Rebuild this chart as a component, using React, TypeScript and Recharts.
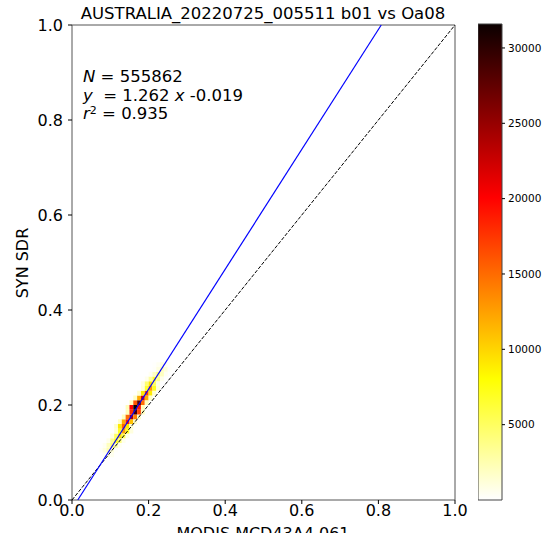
import React from "react";
import {
  ComposedChart,
  BarChart,
  Bar,
  XAxis,
  YAxis,
  ReferenceArea,
  ReferenceLine,
} from "recharts";

// 2D histogram, bin width 0.01. each row is one y bin; counts start at column rowX0
const BIN = 0.01;
const rowY = [9, 10, 11, 12, 13, 14, 15, 16, 17, 18, 19, 20, 21, 22, 23, 24, 25, 26, 27, 28];
const rowX0 = [7, 7, 8, 9, 10, 11, 11, 12, 13, 14, 14, 15, 16, 17, 18, 18, 19, 20, 21, 21];
const rowCounts = [
  [0, 300, 1000, 500, 0],
  [200, 900, 2500, 1200, 200],
  [400, 2000, 4500, 2500, 400],
  [600, 3500, 7000, 4000, 600],
  [900, 5000, 9500, 5500, 800],
  [1200, 7000, 12500, 7000, 1000],
  [1500, 9000, 15500, 9000, 1300],
  [1800, 12000, 19000, 11000, 1500],
  [2000, 15000, 24000, 14000, 1800],
  [2200, 18000, 29000, 17000, 2000],
  [2200, 20000, 31590, 19000, 2200],
  [2000, 16000, 28000, 15000, 2000],
  [1800, 12000, 22000, 12000, 1800],
  [1500, 9000, 17000, 9000, 1500],
  [1200, 6500, 13000, 7000, 1200],
  [900, 4500, 9500, 5000, 900],
  [600, 3000, 6500, 3500, 600],
  [400, 1800, 4000, 2000, 400],
  [200, 900, 2200, 1100, 200],
  [100, 400, 1000, 500, 100],
];

const axisTicks = [0, 0.2, 0.4, 0.6, 0.8, 1.0];
const cbarTicks = [5000, 10000, 15000, 20000, 25000, 30000];
const VMAX = 31590;

// fit and stats
const slope = 1.262;
const intercept = -0.019;
const nPoints = 555862;
const r2 = 0.935;

const FONT = "DejaVu Sans";

// matplotlib hot_r
const hotR = (v: number) => {
  const t = 1 - v / VMAX;
  const c = (x: number) => Math.max(0, Math.min(1, x));
  const r = c(0.0416 + (t / 0.365) * 0.9584);
  const g = c((t - 0.365) / 0.381);
  const b = c((t - 0.746) / 0.254);
  return `rgb(${Math.round(r * 255)},${Math.round(g * 255)},${Math.round(b * 255)})`;
};

const cells: { x: number; y: number; n: number }[] = [];
rowY.forEach((yb, i) => {
  rowCounts[i].forEach((n, j) => {
    if (n > 0) cells.push({ x: rowX0[i] + j, y: yb, n });
  });
});

const App = () => {
  const tickStyle = { fill: "#000", fontSize: 16, fontFamily: FONT };
  return (
    <div
      style={{
        position: "absolute",
        left: 0,
        top: 0,
        width: 548,
        height: 533,
        overflow: "hidden",
        background: "#fff",
      }}
    >
      <div style={{ position: "absolute", left: 0, top: 0 }}>
        <ComposedChart
          width={470}
          height={533}
          margin={{ top: 25, right: 15, bottom: 0, left: 0 }}
        >
          <XAxis
            type="number"
            dataKey="x"
            domain={[0, 1]}
            ticks={axisTicks}
            allowDataOverflow
            height={33}
            tickSize={4}
            tickMargin={1}
            axisLine={false}
            tickLine={{ stroke: "#000" }}
            tick={tickStyle}
            tickFormatter={(v: number) => v.toFixed(1)}
          />
          <YAxis
            type="number"
            dataKey="y"
            domain={[0, 1]}
            ticks={axisTicks}
            allowDataOverflow
            width={72}
            tickSize={4}
            tickMargin={5}
            axisLine={false}
            tickLine={{ stroke: "#000" }}
            tick={tickStyle}
            tickFormatter={(v: number) => v.toFixed(1)}
          />
          {cells.map((c, i) => (
            <ReferenceArea
              key={`cell-${i}`}
              x1={c.x * BIN}
              x2={(c.x + 1) * BIN}
              y1={c.y * BIN}
              y2={(c.y + 1) * BIN}
              fill={hotR(c.n)}
              fillOpacity={1}
              stroke="none"
            />
          ))}
          <ReferenceLine
            segment={[
              { x: 0, y: 0 },
              { x: 1, y: 1 },
            ]}
            stroke="#000"
            strokeWidth={1}
            strokeDasharray="3.7 1.6"
          />
          <ReferenceLine
            segment={[
              { x: (0 - intercept) / slope, y: 0 },
              { x: (1 - intercept) / slope, y: 1 },
            ]}
            stroke="#0000ff"
            strokeWidth={1.2}
          />
          <ReferenceArea
            x1={0}
            x2={1}
            y1={0}
            y2={1}
            fill="none"
            stroke="#555"
            strokeWidth={1}
          />
        </ComposedChart>
      </div>

      <div style={{ position: "absolute", left: 478, top: 0 }}>
        <BarChart
          width={70}
          height={533}
          data={[{ name: "count", v: VMAX }]}
          margin={{ top: 24, right: 0, bottom: 33, left: 0 }}
          barCategoryGap={0}
        >
          <defs>
            <linearGradient id="hotGrad" x1="0" y1="0" x2="0" y2="1">
              <stop offset="0" stopColor="#0b0000" />
              <stop offset="0.365" stopColor="#ff0000" />
              <stop offset="0.746" stopColor="#ffff00" />
              <stop offset="1" stopColor="#ffffff" />
            </linearGradient>
          </defs>
          <XAxis dataKey="name" hide />
          <YAxis
            orientation="right"
            type="number"
            domain={[0, VMAX]}
            ticks={cbarTicks}
            width={46}
            tickSize={3}
            tickMargin={3}
            axisLine={false}
            tickLine={{ stroke: "#000" }}
            tick={{ fill: "#000", fontSize: 10.5, fontFamily: FONT }}
          />
          <Bar
            dataKey="v"
            fill="url(#hotGrad)"
            stroke="#444"
            strokeWidth={1}
            isAnimationActive={false}
          />
        </BarChart>
      </div>

      <svg
        width={548}
        height={533}
        style={{ position: "absolute", left: 0, top: 0, pointerEvents: "none" }}
        fontFamily={FONT}
      >
        <text x={263} y={19} fontSize={16.5} textAnchor="middle" fill="#000">
          AUSTRALIA_20220725_005511 b01 vs Oa08
        </text>
        <text x={83} y={82} fontSize={16.5} fill="#000">
          <tspan fontStyle="italic">N</tspan> = {nPoints}
        </text>
        <text x={83} y={100.5} fontSize={16.5} fill="#000" xmlSpace="preserve">
          <tspan fontStyle="italic">y</tspan>{"  = "}{slope} <tspan fontStyle="italic">x</tspan> {intercept}
        </text>
        <text x={83} y={119} fontSize={16.5} fill="#000">
          <tspan fontStyle="italic">r</tspan>
          <tspan fontSize={11} dy={-5}>2</tspan>
          <tspan dy={5}> = {r2}</tspan>
        </text>
        <text
          x={0}
          y={0}
          fontSize={16}
          textAnchor="middle"
          fill="#000"
          transform="translate(28 263) rotate(-90)"
        >
          SYN SDR
        </text>
        <text x={263} y={539} fontSize={16} textAnchor="middle" fill="#000">
          MODIS MCD43A4.061
        </text>
      </svg>
    </div>
  );
};

export default App;
